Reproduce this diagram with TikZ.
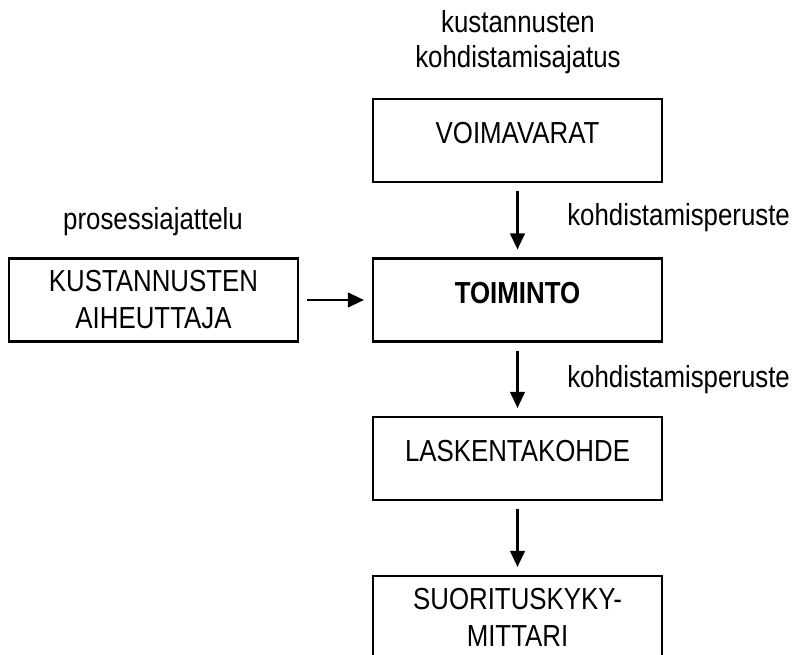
\documentclass[tikz,border=0pt]{standalone}
\usepackage{fontspec}
\setmainfont[FakeStretch=0.85]{Liberation Sans}
\usetikzlibrary{arrows.meta}
\begin{document}
\begin{tikzpicture}[x=0.75pt,y=-0.75pt,
  txt/.style={font=\fontsize{22.8}{26.25}\selectfont, inner sep=0pt, align=center},
  box/.style={draw, line width=1.6pt, minimum width=216.75pt, minimum height=62.25pt,
    inner sep=0pt, align=center, font=\fontsize{22.8}{27.75}\selectfont},
  liftup/.style={text depth=11.25pt},
  arr/.style={line width=1.6pt, shorten <=6pt, shorten >=6pt,
    -{Triangle[length=12pt,width=11pt]}}]
\useasboundingbox (0,0) rectangle (793,655);

% boxes
\node[box, liftup] (voima) at (517.5,140.5) {VOIMAVARAT};
\node[box, liftup, font=\fontsize{22.8}{27.75}\selectfont\bfseries] (toim) at (517.5,300) {TOIMINTO};
\node[box] (kust) at (153.5,300) {KUSTANNUSTEN\\AIHEUTTAJA};
\node[box, liftup] (lask) at (517.5,458.5) {LASKENTAKOHDE};
\node[box] (suor) at (517.5,617.5) {SUORITUSKYKY-\\MITTARI};

% captions
\node[txt, anchor=base] (ajatus) at (518,68) {kustannusten\\kohdistamisajatus};
\node[txt, anchor=base] (prosessi) at (153,230) {prosessiajattelu};
\node[txt, anchor=base west] (peruste1) at (567,226) {kohdistamisperuste};
\node[txt, anchor=base west] (peruste2) at (567,388) {kohdistamisperuste};

% connectors
\draw[arr] (voima) -- (toim);
\draw[arr] (toim) -- (lask);
\draw[arr] (lask) -- (suor);
\draw[arr] (kust) -- (toim);
\end{tikzpicture}
\end{document}
